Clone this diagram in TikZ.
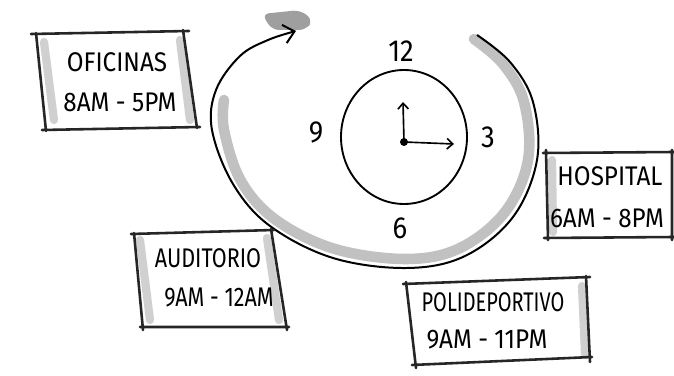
\documentclass[tikz,border=0pt]{standalone}
\usepackage{fontspec}
\setmainfont{Fira Sans}[FakeStretch=0.9]
\newfontfamily\narrowf{Fira Sans}[FakeStretch=0.8]
\newfontfamily\narrowerf{Fira Sans}[FakeStretch=0.74]
\usetikzlibrary{arrows.meta}
\tikzset{
  box/.style={line width=2.2pt, line join=round, line cap=round, black!85},
  smudge/.style={line width=7pt, gray!60, opacity=0.6, line cap=round},
  lbl/.style={font=\fontsize{23}{23}\selectfont, inner sep=0pt, black},
  num/.style={font=\fontsize{26}{26}\selectfont, inner sep=0pt, black},
  hand/.style={line width=1.4pt, -{Straight Barb[length=5pt,width=9pt]}},
}
\begin{document}
\begin{tikzpicture}[x=0.03cm,y=-0.03cm]
\useasboundingbox[fill=white] (0,0) rectangle (674,376);

% ---- big circular arrow ----
\draw[gray!60, opacity=0.8, line width=9pt, line cap=round]
  plot[smooth, tension=0.6] coordinates {(474,39) (503,64) (524,102) (528,160) (505,212) (460,248) (407,259) (335,249) (276,220) (241,181) (224,130) (224,100)};
\fill[gray!75, rounded corners=6pt] (262,14) -- (300,10) -- (313,20) -- (306,30) -- (272,30) -- cycle;
\coordinate (as) at (477,35);
\coordinate (ae) at (296,31);
\draw[line width=1.7pt, -{Straight Barb[length=9pt,width=16pt]}]
  plot[smooth, tension=0.6] coordinates {(as) (510,62) (533,102) (537,160) (513,217) (465,256) (407,268) (333,258) (270,226) (233,184) (212,130) (216,90) (240,56) (268,40) (ae)};

% ---- clock ----
\coordinate (cc) at (404,137);
\draw[line width=1.6pt] (cc) ellipse [x radius=63, y radius=67];
\coordinate (hub) at (404,142);
\coordinate (h12) at (403,102);
\coordinate (h3) at (454,144);
\fill (hub) circle [radius=4];
\draw[hand] (hub) -- (h12);
\draw[hand] (hub) -- (h3);
\node[num] (n12) at (401,51) {12};
\node[num] (n3) at (488,137) {3};
\node[num] (n6) at (400,228) {6};
\node[num] (n9) at (316,132) {9};

% ---- Oficinas ----
\draw[smudge] (44,42) -- (54,120);
\draw[smudge] (180,40) -- (190,120);
\draw[box] (31,34) -- (189,31) (36,33) -- (46,131) (183,30) -- (197,128) (42,130) -- (200,127);
\node[lbl] (ofi) at (117,62) {OFICINAS};
\node[lbl] (ofih) at (120,102) {8AM - 5PM};

% ---- Hospital ----
\draw[smudge] (552,160) -- (553,232);
\draw[box] (543,153) -- (674,152) (546,150) -- (548,240) (544,238) -- (674,237) (672,150) -- (672,240);
\node[lbl] (hos) at (610,176) {HOSPITAL};
\node[lbl] (hosh) at (607,218) {6AM - 8PM};

% ---- Auditorio ----
\draw[smudge] (140,240) -- (150,320);
\draw[smudge] (267,238) -- (279,320);
\draw[box] (131,234) -- (274,230) (134,233) -- (143,330) (271,229) -- (287,330) (140,327) -- (289,327);
\node[lbl] (aud) at (208,258) {\narrowf AUDITORIO};
\node[lbl] (audh) at (219,298) {\narrowf 9AM - 12AM};

% ---- Polideportivo ----
\draw[smudge] (582,286) -- (585,354);
\draw[box] (403,284) -- (590,277) (406,282) -- (416,368) (586,276) -- (590,362) (412,365) -- (592,357);
\node[lbl] (pol) at (493,302) {\narrowerf POLIDEPORTIVO};
\node[lbl] (polh) at (487,340) {9AM - 11PM};
\end{tikzpicture}
\end{document}
